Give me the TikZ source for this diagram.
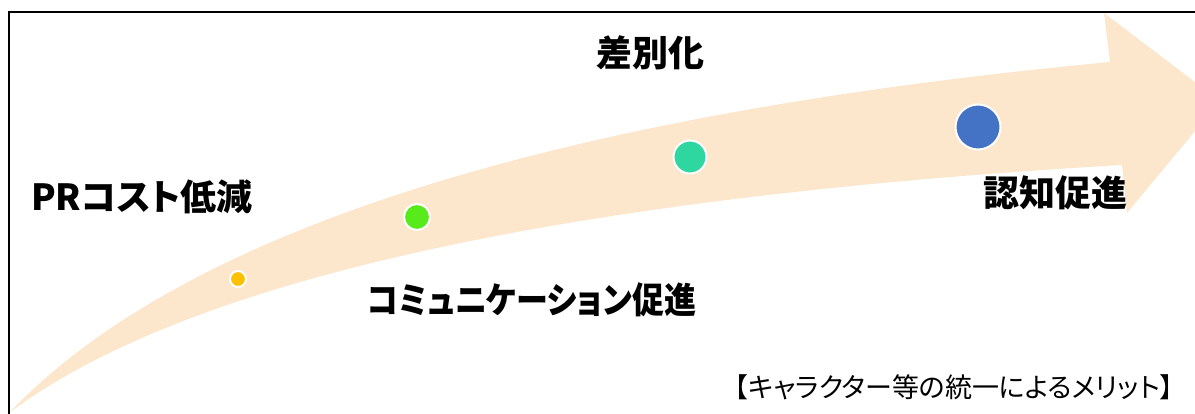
\documentclass[tikz,border=0pt]{standalone}
\usepackage{graphicx}
\usepackage{fontspec}
\newfontfamily\jp[RawFeature=+palt]{Noto Sans CJK JP}
\definecolor{arrowbeige}{HTML}{FDE7CC}
\definecolor{dotyellow}{HTML}{FFC000}
\definecolor{dotgreen}{HTML}{58EB1C}
\definecolor{dotteal}{HTML}{2ED6A0}
\definecolor{dotblue}{HTML}{4472C4}
\tikzset{
  dot/.style={circle, draw=white, line width=2pt, inner sep=0pt},
  bigLabel/.style={inner sep=0pt, font=\jp\bfseries\fontsize{36}{40}\selectfont},
  caption/.style={inner sep=0pt, font=\jp\fontsize{27}{32}\selectfont}
}
\begin{document}
\begin{tikzpicture}[x=1pt,y=-1pt]
\useasboundingbox (0,0) rectangle (1195,414);
% curved arrow
\fill[arrowbeige] (9,413) .. controls (181,232) and (548,115) .. (1110,62)
  -- (1104,13) -- (1220,101) -- (1127,213) -- (1122,165)
  .. controls (556,198) and (185,281) .. (9,413) -- cycle;
% frame
\draw[line width=2pt] (9,420) -- (9,12) -- (1200,12);
% dots
\node[dot, fill=dotyellow, minimum size=16pt] (d1) at (238,279) {};
\node[dot, fill=dotgreen, minimum size=26pt] (d2) at (417,217) {};
\node[dot, fill=dotteal, minimum size=33pt] (d3) at (690,157) {};
\node[dot, fill=dotblue, minimum size=45pt] (d4) at (978,127) {};
% labels
\node[bigLabel] (l1) at (142,197) {PRコスト低減};
\node[bigLabel] (l2) at (650,53) {差別化};
\node[bigLabel] (l3) at (532,300) {\scalebox{0.89}[1]{コミュニケーション促進}};
\node[bigLabel] (l4) at (1055,193) {認知促進};
\node[caption] (cap) at (954,387) {【キャラクター等の統一によるメリット】};
\end{tikzpicture}
\end{document}
